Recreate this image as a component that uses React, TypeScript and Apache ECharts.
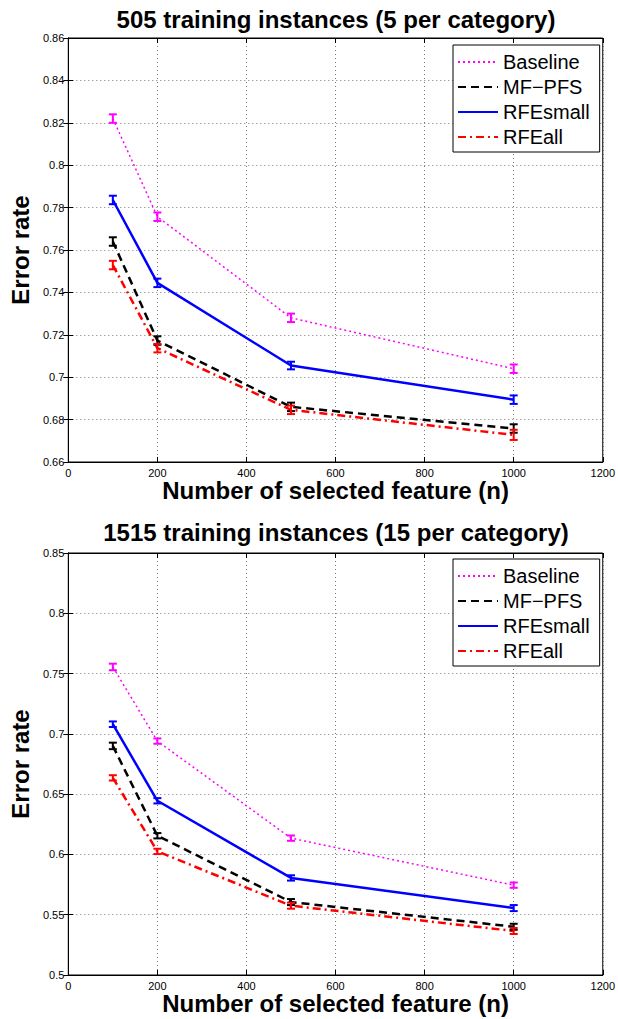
import React, { useEffect, useRef } from "react";
import * as echarts from "echarts";

// ---- Data ----
const featureCounts = [100, 200, 500, 1000];
const seriesNames = ["Baseline", "MF\u2212PFS", "RFEsmall", "RFEall"];

const titles = [
  "505 training instances (5 per category)",
  "1515 training instances (15 per category)",
];

// Top chart: 505 training instances
const topBaseline = [0.822, 0.7757, 0.728, 0.704];
const topMFPFS = [0.764, 0.7173, 0.686, 0.6758];
const topRFEsmall = [0.7836, 0.7445, 0.7055, 0.6894];
const topRFEall = [0.7529, 0.7137, 0.6846, 0.6728];
const topBaselineErr = [0.002, 0.002, 0.002, 0.002];
const topMFPFSErr = [0.002, 0.002, 0.002, 0.002];
const topRFEsmallErr = [0.002, 0.002, 0.0018, 0.002];
const topRFEallErr = [0.002, 0.002, 0.002, 0.0024];

// Bottom chart: 1515 training instances
const botBaseline = [0.7555, 0.694, 0.6135, 0.5745];
const botMFPFS = [0.690, 0.6155, 0.5605, 0.54];
const botRFEsmall = [0.708, 0.6445, 0.5805, 0.5555];
const botRFEall = [0.6635, 0.6025, 0.5575, 0.5365];
const botBaselineErr = [0.0027, 0.0022, 0.0022, 0.0022];
const botMFPFSErr = [0.0027, 0.0022, 0.0025, 0.0025];
const botRFEsmallErr = [0.0023, 0.0022, 0.0022, 0.0025];
const botRFEallErr = [0.0022, 0.0022, 0.0025, 0.0025];

// Axis ranges / ticks
const xMin = 0, xMax = 1200, xStep = 200;
const topYMin = 0.66, topYMax = 0.86, topYStep = 0.02;
const botYMin = 0.5, botYMax = 0.85, botYStep = 0.05;

const xAxisName = "Number of selected feature (n)";
const yAxisName = "Error rate";

// ---- Styles ----
const FONT = "'Liberation Sans', Arial, Helvetica, sans-serif";
const styles = [
  { color: "#ff00ff", width: 1.5, type: [2, 3] as any },
  { color: "#000000", width: 2.5, type: [8, 5] as any },
  { color: "#0000ff", width: 2.5, type: "solid" as any },
  { color: "#ff0000", width: 2.5, type: [8, 4, 2, 4] as any },
];

function errData(vals: number[], errs: number[]) {
  return featureCounts.map((x, i) => [x, vals[i] - errs[i], vals[i] + errs[i]]);
}

function makeErrSeries(name: string, color: string, vals: number[], errs: number[], axisIdx: number) {
  return {
    type: "custom",
    name: name + " err",
    xAxisIndex: axisIdx,
    yAxisIndex: axisIdx,
    data: errData(vals, errs),
    encode: { x: 0, y: [1, 2] },
    z: 5,
    renderItem: (params: any, api: any) => {
      const x = api.value(0);
      const lo = api.coord([x, api.value(1)]);
      const hi = api.coord([x, api.value(2)]);
      const w = 4;
      const st = { stroke: color, lineWidth: 2 };
      return {
        type: "group",
        children: [
          { type: "line", shape: { x1: lo[0], y1: lo[1], x2: hi[0], y2: hi[1] }, style: st },
          { type: "line", shape: { x1: lo[0] - w, y1: lo[1], x2: lo[0] + w, y2: lo[1] }, style: st },
          { type: "line", shape: { x1: hi[0] - w, y1: hi[1], x2: hi[0] + w, y2: hi[1] }, style: st },
        ],
      };
    },
  };
}

function makeLineSeries(idx: number, vals: number[], axisIdx: number) {
  const s = styles[idx];
  return {
    type: "line",
    name: seriesNames[idx],
    xAxisIndex: axisIdx,
    yAxisIndex: axisIdx,
    data: featureCounts.map((x, i) => [x, vals[i]]),
    symbol: "none",
    lineStyle: { color: s.color, width: s.width, type: s.type },
    itemStyle: { color: s.color },
    z: 3,
  };
}

const gridLine = { show: true, lineStyle: { color: "#777", type: [1, 3] as any, width: 1 } };
const axisLineStyle = { show: true, lineStyle: { color: "#000", width: 1 } };
const tickStyle = { show: true, inside: true, length: 5, lineStyle: { color: "#000", width: 1 } };
const labelStyle = { color: "#000", fontSize: 11, fontFamily: FONT };
const plainNum = (v: number) => String(v);

function xAxes(gridIndex: number) {
  return [
    {
      type: "value",
      gridIndex,
      min: xMin,
      max: xMax,
      interval: xStep,
      position: "bottom",
      axisLine: axisLineStyle,
      axisTick: tickStyle,
      axisLabel: { ...labelStyle, margin: 5, showMinLabel: true, showMaxLabel: true, formatter: plainNum },
      splitLine: gridLine,
      name: xAxisName,
      nameLocation: "middle",
      nameGap: 16,
      nameTextStyle: { color: "#000", fontSize: 24, fontWeight: "bold", fontFamily: FONT },
    },
    {
      type: "value",
      gridIndex,
      min: xMin,
      max: xMax,
      interval: xStep,
      position: "top",
      axisLine: axisLineStyle,
      axisTick: tickStyle,
      axisLabel: { show: false },
      splitLine: { show: false },
    },
  ];
}

function yAxes(gridIndex: number, min: number, max: number, step: number) {
  return [
    {
      type: "value",
      gridIndex,
      min,
      max,
      interval: step,
      position: "left",
      axisLine: axisLineStyle,
      axisTick: tickStyle,
      axisLabel: { ...labelStyle, margin: 4, showMinLabel: true, showMaxLabel: true },
      splitLine: gridLine,
      name: yAxisName,
      nameLocation: "middle",
      nameRotate: 90,
      nameGap: 31,
      nameTextStyle: { color: "#000", fontSize: 24, fontWeight: "bold", fontFamily: FONT },
    },
    {
      type: "value",
      gridIndex,
      min,
      max,
      interval: step,
      position: "right",
      axisLine: axisLineStyle,
      axisTick: tickStyle,
      axisLabel: { show: false },
      splitLine: { show: false },
    },
  ];
}

function legendAt(top: number) {
  return {
    orient: "vertical",
    left: 453,
    top,
    data: seriesNames,
    itemWidth: 40,
    itemHeight: 20,
    itemGap: 5,
    padding: [7, 10, 5, 4],
    borderColor: "#000",
    borderWidth: 1,
    backgroundColor: "#fff",
    selectedMode: false,
    itemStyle: { color: "transparent", borderColor: "transparent", borderWidth: 0, opacity: 0 },
    lineStyle: { width: 2 },
    textStyle: { color: "#000", fontSize: 20, fontFamily: FONT, padding: [0, 0, 0, 0] },
  };
}

export default function App() {
  const ref = useRef<HTMLDivElement>(null);
  useEffect(() => {
    if (!ref.current) return;
    const chart = echarts.init(ref.current, null, { renderer: "svg" });
    const topVals = [topBaseline, topMFPFS, topRFEsmall, topRFEall];
    const topErrs = [topBaselineErr, topMFPFSErr, topRFEsmallErr, topRFEallErr];
    const botVals = [botBaseline, botMFPFS, botRFEsmall, botRFEall];
    const botErrs = [botBaselineErr, botMFPFSErr, botRFEsmallErr, botRFEallErr];

    const series: any[] = [];
    topVals.forEach((v, i) => series.push(makeLineSeries(i, v, 0)));
    botVals.forEach((v, i) => series.push(makeLineSeries(i, v, 2)));
    topVals.forEach((v, i) => series.push(makeErrSeries(seriesNames[i] + " top", styles[i].color, v, topErrs[i], 0)));
    botVals.forEach((v, i) => series.push(makeErrSeries(seriesNames[i] + " bot", styles[i].color, v, botErrs[i], 2)));

    const option: any = {
      animation: false,
      backgroundColor: "#fff",
      title: [
        {
          text: titles[0],
          left: 336,
          top: 7,
          textAlign: "center",
          padding: 0,
          textStyle: { color: "#000", fontSize: 24, fontWeight: "bold", fontFamily: FONT },
        },
        {
          text: titles[1],
          left: 336,
          top: 520,
          textAlign: "center",
          padding: 0,
          textStyle: { color: "#000", fontSize: 24, fontWeight: "bold", fontFamily: FONT },
        },
      ],
      legend: [legendAt(45), legendAt(559)],
      grid: [
        { left: 68, top: 38, width: 536, height: 424, show: true, borderColor: "#000", borderWidth: 1, backgroundColor: "transparent" },
        { left: 68, top: 553, width: 536, height: 422, show: true, borderColor: "#000", borderWidth: 1, backgroundColor: "transparent" },
      ],
      xAxis: [...xAxes(0), ...xAxes(1)],
      yAxis: [
        ...yAxes(0, topYMin, topYMax, topYStep),
        ...yAxes(1, botYMin, botYMax, botYStep),
      ],
      series,
    };
    chart.setOption(option);
    return () => chart.dispose();
  }, []);
  return (
    <div
      ref={ref}
      style={{ position: "fixed", left: 0, top: 0, width: 618, height: 1019, background: "#fff" }}
    />
  );
}
